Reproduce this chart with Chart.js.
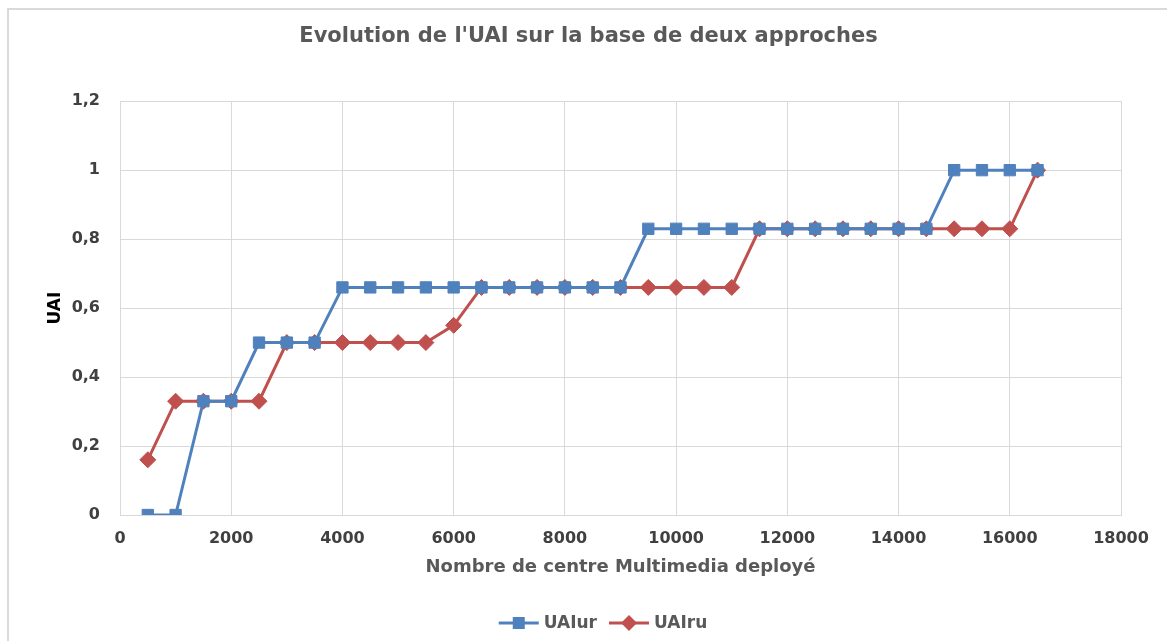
<!DOCTYPE html>
<html>
<head>
<meta charset="utf-8">
<script src="https://cdn.jsdelivr.net/npm/chart.js@4.4.1/dist/chart.umd.min.js"></script>
<style>
  html, body { margin: 0; padding: 0; background: #ffffff; }
  #wrap { width: 1167px; height: 641px; position: relative; }
</style>
</head>
<body>
<div id="wrap"><canvas id="c" width="1167" height="641"></canvas></div>
<script>
// ---- data ----
const xValues = [500, 1000, 1500, 2000, 2500, 3000, 3500, 4000, 4500, 5000, 5500, 6000, 6500, 7000, 7500, 8000, 8500,
                 9000, 9500, 10000, 10500, 11000, 11500, 12000, 12500, 13000, 13500, 14000, 14500, 15000, 15500, 16000, 16500];
const uaiUr = [0, 0, 0.33, 0.33, 0.5, 0.5, 0.5, 0.66, 0.66, 0.66, 0.66, 0.66, 0.66, 0.66, 0.66, 0.66, 0.66,
               0.66, 0.83, 0.83, 0.83, 0.83, 0.83, 0.83, 0.83, 0.83, 0.83, 0.83, 0.83, 1, 1, 1, 1];
const uaiRu = [0.16, 0.33, 0.33, 0.33, 0.33, 0.5, 0.5, 0.5, 0.5, 0.5, 0.5, 0.55, 0.66, 0.66, 0.66, 0.66, 0.66,
               0.66, 0.66, 0.66, 0.66, 0.66, 0.83, 0.83, 0.83, 0.83, 0.83, 0.83, 0.83, 0.83, 0.83, 0.83, 1];
const seriesNames = ['UAIur', 'UAIru'];
const yTickLabels = ['0', '0,2', '0,4', '0,6', '0,8', '1', '1,2'];
const xTickLabels = ['0', '2000', '4000', '6000', '8000', '10000', '12000', '14000', '16000', '18000'];
const chartTitle = "Evolution de l'UAI sur la base de deux approches";
const xTitle = 'Nombre de centre Multimedia deployé';
const yTitle = 'UAI';

const BLUE = '#4F81BD';
const RED = '#C0504D';
const GRID = '#d9d9d9';
const FONT = "'DejaVu Sans', 'Open Sans', sans-serif";

function toPoints(values) {
  return xValues.map((x, i) => ({ x: x, y: values[i] }));
}

// frame around the chart (like the office chart border)
const framePlugin = {
  id: 'frame',
  beforeDraw(chart) {
    const ctx = chart.ctx;
    ctx.save();
    ctx.fillStyle = '#ffffff';
    ctx.fillRect(0, 0, chart.width, chart.height);
    ctx.strokeStyle = '#d9d9d9';
    ctx.lineWidth = 2;
    ctx.strokeRect(8, 9, chart.width + 20, chart.height + 20);
    ctx.restore();
  }
};

// legend with line + marker
const lineLegendPlugin = {
  id: 'lineLegend',
  afterDraw(chart) {
    const ctx = chart.ctx;
    ctx.save();
    ctx.font = 'bold 17px ' + FONT;
    ctx.textBaseline = 'middle';
    const y = 623;
    const lineLen = 40, gapText = 5, gapItems = 12;
    const items = chart.data.datasets.map(ds => ({
      text: ds.label, color: ds.borderColor, style: ds.pointStyle,
      w: lineLen + gapText + ctx.measureText(ds.label).width
    }));
    const total = items.reduce((s, it) => s + it.w, 0) + gapItems * (items.length - 1);
    let x = 603 - total / 2;
    items.forEach(it => {
      ctx.strokeStyle = it.color;
      ctx.lineWidth = 3;
      ctx.beginPath();
      ctx.moveTo(x, y);
      ctx.lineTo(x + lineLen, y);
      ctx.stroke();
      ctx.fillStyle = it.color;
      const cx = x + lineLen / 2;
      ctx.beginPath();
      if (it.style === 'rect') {
        ctx.rect(cx - 6, y - 6, 12, 12);
      } else {
        ctx.moveTo(cx, y - 8);
        ctx.lineTo(cx + 8, y);
        ctx.lineTo(cx, y + 8);
        ctx.lineTo(cx - 8, y);
        ctx.closePath();
      }
      ctx.fill();
      ctx.fillStyle = '#595959';
      ctx.textAlign = 'left';
      ctx.fillText(it.text, x + lineLen + gapText, y + 1);
      x += it.w + gapItems;
    });
    ctx.restore();
  }
};

new Chart(document.getElementById('c'), {
  type: 'line',
  data: {
    datasets: [
      {
        label: seriesNames[0],
        data: toPoints(uaiUr),
        borderColor: BLUE,
        backgroundColor: BLUE,
        borderWidth: 3,
        pointStyle: 'rect',
        pointRadius: 8,
        pointBorderWidth: 1,
        pointHoverRadius: 8,
        tension: 0,
        fill: false
      },
      {
        label: seriesNames[1],
        data: toPoints(uaiRu),
        borderColor: RED,
        backgroundColor: RED,
        borderWidth: 3,
        pointStyle: 'rectRot',
        pointRadius: 8,
        pointBorderWidth: 1,
        pointHoverRadius: 8,
        tension: 0,
        fill: false
      }
    ]
  },
  options: {
    responsive: false,
    animation: false,
    devicePixelRatio: 1,
    layout: { padding: { left: 56, right: 46, top: 0, bottom: 59 } },
    plugins: {
      legend: { display: false },
      tooltip: { enabled: false },
      title: {
        display: true,
        text: chartTitle,
        color: '#595959',
        font: { family: FONT, size: 21, weight: 'bold', lineHeight: 1.2 },
        padding: { top: 24, bottom: 52 }
      }
    },
    scales: {
      x: {
        type: 'linear',
        min: 0,
        max: 18000,
        afterFit(scale) { scale.height = 67; },
        afterBuildTicks(scale) {
          scale.ticks = xTickLabels.map(t => ({ value: Number(t) }));
        },
        ticks: {
          stepSize: 2000,
          padding: 14,
          color: '#404040',
          font: { family: FONT, size: 16, weight: 'bold' },
          maxRotation: 0,
          callback: (v, i) => xTickLabels[i]
        },
        grid: { color: GRID, lineWidth: 1, drawTicks: false },
        border: { color: GRID, width: 1 },
        title: {
          display: true,
          text: xTitle,
          color: '#595959',
          font: { family: FONT, size: 18, weight: 'bold', lineHeight: 1.2 },
          padding: { top: 4, bottom: 4 }
        }
      },
      y: {
        min: 0,
        max: 1.2,
        afterFit(scale) { scale.width = 64; },
        afterBuildTicks(scale) {
          scale.ticks = yTickLabels.map((t, i) => ({ value: i * 0.2 }));
        },
        ticks: {
          stepSize: 0.2,
          padding: 20,
          color: '#404040',
          font: { family: FONT, size: 16, weight: 'bold' },
          callback: (v, i) => yTickLabels[i]
        },
        grid: { color: GRID, lineWidth: 1, drawTicks: false },
        border: { color: GRID, width: 1 },
        title: {
          display: true,
          text: yTitle,
          color: '#000000',
          font: { family: FONT, size: 17, weight: 'bold', lineHeight: 1.2 },
          padding: { top: -11, bottom: 4 }
        }
      }
    }
  },
  plugins: [framePlugin, lineLegendPlugin]
});
</script>
</body>
</html>
